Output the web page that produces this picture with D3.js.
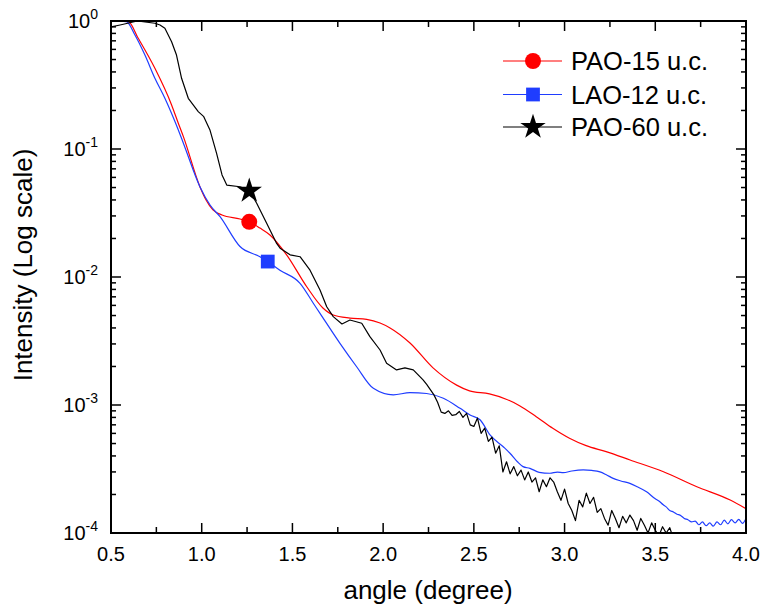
<!DOCTYPE html>
<html><head><meta charset="utf-8">
<script src="https://cdn.jsdelivr.net/npm/d3@7"></script>
<style>body{margin:0;background:#fff}svg{display:block}text{font-family:Arial,"Liberation Sans",sans-serif;fill:#000}</style>
</head><body><svg id="c" width="764" height="611"></svg>
<script>
// ---- data ----
const seriesNames = ["PAO-15 u.c.", "LAO-12 u.c.", "PAO-60 u.c."];
const seriesColors = ["#ff0000", "#1f3dff", "#000000"];
const redAngle = [0.5,0.595,0.65,0.742,0.834,0.871,0.899,0.99,1.024,1.062,1.112,1.211,1.262,1.321,1.376,1.468,1.579,1.668,1.725,1.817,1.909,1.983,2.038,2.148,2.275,2.405,2.476,2.586,2.678,2.752,2.844,2.935,3.027,3.119,3.229,3.361,3.545,3.729,3.913,4.0];
const redInt = [1.0,0.99,0.733,0.427,0.221,0.159,0.125,0.0508,0.040,0.0334,0.0305,0.0284,0.027,0.0241,0.0213,0.0149,0.00839,0.00573,0.00505,0.00478,0.00467,0.00437,0.004,0.00305,0.00195,0.00143,0.00129,0.00122,0.00111,0.000988,0.000811,0.000658,0.00055,0.000481,0.000432,0.000372,0.000301,0.00023,0.000181,0.000155];
const blueAngle = [0.5,0.585,0.632,0.687,0.742,0.797,0.853,0.899,0.99,1.046,1.101,1.211,1.321,1.364,1.431,1.542,1.615,1.652,1.762,1.854,1.946,2.056,2.148,2.24,2.332,2.424,2.479,2.534,2.589,2.662,2.699,2.74,2.771,2.809,2.86,2.919,2.96,2.993,3.04,3.103,3.15,3.195,3.23,3.268,3.31,3.36,3.4,3.452,3.5,3.52,3.544,3.56,3.58,3.6,3.62,3.636,3.66,3.68,3.7,3.72,3.74,3.76,3.78,3.8,3.82,3.84,3.86,3.88,3.9,3.92,3.94,3.96,3.98,4.0];
const blueInt = [1.0,0.99,0.777,0.542,0.357,0.249,0.163,0.111,0.0508,0.0365,0.0296,0.0173,0.0144,0.0132,0.0113,0.00893,0.00624,0.0052,0.00303,0.00199,0.00135,0.0012,0.00125,0.00123,0.00113,0.000942,0.000835,0.000767,0.000583,0.000472,0.00042,0.00036,0.00033,0.00032,0.000298,0.000293,0.000299,0.000296,0.000305,0.000311,0.000308,0.0003,0.000285,0.000267,0.000255,0.000244,0.00023,0.00021,0.000185,0.000178,0.000166,0.00016,0.00015,0.000146,0.00014,0.000138,0.00013,0.000127,0.000122,0.000124,0.000116,0.000122,0.000114,0.00012,0.000113,0.000122,0.000116,0.000126,0.000118,0.000127,0.00012,0.000128,0.000119,0.00013];
const blackAngle = [0.5,0.55,0.592,0.645,0.742,0.77,0.797,0.834,0.861,0.889,0.926,0.981,1.01,1.046,1.082,1.112,1.138,1.211,1.261,1.303,1.358,1.413,1.432,1.487,1.542,1.597,1.652,1.689,1.725,1.773,1.817,1.882,1.927,1.983,2.019,2.074,2.12,2.166,2.22,2.24,2.26,2.28,2.3,2.32,2.34,2.36,2.38,2.4,2.42,2.44,2.46,2.48,2.5,2.52,2.54,2.56,2.58,2.6,2.62,2.64,2.66,2.68,2.7,2.72,2.74,2.76,2.78,2.8,2.82,2.84,2.86,2.88,2.9,2.92,2.94,2.96,2.98,3.0,3.02,3.04,3.06,3.08,3.1,3.12,3.14,3.16,3.18,3.2,3.22,3.24,3.26,3.28,3.3,3.32,3.34,3.36,3.38,3.4,3.42,3.44,3.46,3.48,3.5,3.52,3.54,3.56,3.58,3.6,3.62];
const blackInt = [0.898,0.93,0.96,1.0,0.96,0.93,0.877,0.689,0.542,0.357,0.249,0.196,0.18,0.14,0.0925,0.0627,0.0523,0.0507,0.0478,0.0377,0.0263,0.0183,0.0168,0.0149,0.0144,0.0113,0.00791,0.00586,0.0049,0.0043,0.00461,0.00435,0.00342,0.00269,0.00212,0.00188,0.00195,0.00188,0.00157,0.00145,0.00132,0.0012,0.00105,0.00088,0.00086,0.0009,0.00083,0.00084,0.00089,0.0008,0.00086,0.0007,0.00068,0.00079,0.0006,0.00066,0.00052,0.00056,0.00042,0.00048,0.0003,0.00036,0.00029,0.00033,0.00028,0.00031,0.00026,0.0003,0.00025,0.00027,0.00021,0.00026,0.00023,0.00027,0.00025,0.00021,0.00018,0.00022,0.00017,0.00015,0.000125,0.00018,0.00016,0.000205,0.00017,0.00019,0.000145,0.000155,0.00013,0.000115,0.00015,0.00013,0.00011,0.000135,0.00012,0.000138,0.000125,0.000105,0.00013,0.000115,0.0001,0.00012,0.000105,0.000095,0.000112,0.0001,0.00011,0.00009,0.00008];
const markerAngle = [1.262, 1.364, 1.262];
const markerInt = [0.027, 0.0132, 0.047];
const xTicks = [0.5,1.0,1.5,2.0,2.5,3.0,3.5,4.0];
const yDecades = [0,-1,-2,-3,-4];
const xTitle = "angle (degree)";
const yTitle = "Intensity (Log scale)";

// ---- chart ----
const L=111,R=746,T=21,B=533;
const svg=d3.select("#c");
const x=d3.scaleLinear().domain([0.5,4]).range([L,R]);
const y=d3.scaleLog().domain([1e-4,1]).range([B,T]);

svg.append("clipPath").attr("id","clip").append("rect").attr("x",L).attr("y",T).attr("width",R-L).attr("height",B-T);

const line=d3.line().x(d=>x(d[0])).y(d=>y(d[1]));
const series=[
  {a:redAngle,v:redInt,curve:d3.curveMonotoneX},
  {a:blueAngle,v:blueInt,curve:d3.curveMonotoneX},
  {a:blackAngle,v:blackInt,curve:d3.curveLinear}
];
const gLines=svg.append("g").attr("clip-path","url(#clip)");
series.forEach((s,i)=>{
  const pts=s.a.map((a,j)=>[a,s.v[j]]);
  gLines.append("path").attr("d",line.curve(s.curve)(pts)).attr("fill","none")
    .attr("stroke",seriesColors[i]).attr("stroke-width",1.2).attr("stroke-linejoin","round");
});

const symbols=[d3.symbolCircle,d3.symbolSquare,d3.symbolStar];
const symSizes=[200,190,200];
series.forEach((s,i)=>{
  svg.append("path").attr("d",d3.symbol().type(symbols[i]).size(symSizes[i])())
    .attr("transform",`translate(${x(markerAngle[i])},${y(markerInt[i])})`).attr("fill",seriesColors[i]);
});

// axes ticks
const minorX=d3.range(0.5,4.001,0.25);
const gt=svg.append("g").attr("stroke","#000").attr("stroke-width",1.5);
minorX.forEach(v=>{
  const major=Math.abs(v*2-Math.round(v*2))<1e-6;
  const len=major?10:6;
  gt.append("line").attr("x1",x(v)).attr("x2",x(v)).attr("y1",B).attr("y2",B-len);
  gt.append("line").attr("x1",x(v)).attr("x2",x(v)).attr("y1",T).attr("y2",T+len);
});
y.ticks().forEach(v=>{
  const lg=Math.log10(v);
  const major=Math.abs(lg-Math.round(lg))<1e-6;
  const len=major?10:5;
  gt.append("line").attr("x1",L).attr("x2",L+len).attr("y1",y(v)).attr("y2",y(v));
  gt.append("line").attr("x1",R).attr("x2",R-len).attr("y1",y(v)).attr("y2",y(v));
});
svg.append("rect").attr("x",L).attr("y",T).attr("width",R-L).attr("height",B-T)
  .attr("fill","none").attr("stroke","#000").attr("stroke-width",2);

// tick labels
xTicks.forEach(v=>{
  svg.append("text").attr("x",x(v)).attr("y",561).attr("text-anchor","middle")
    .attr("font-size",20).text(v.toFixed(1));
});
yDecades.forEach(p=>{
  const t=svg.append("text").attr("x",98).attr("y",y(Math.pow(10,p))+7).attr("text-anchor","end").attr("font-size",20);
  t.append("tspan").text("10");
  t.append("tspan").attr("dy",-9).attr("font-size",14).text(String(p));
});

svg.append("text").attr("x",428).attr("y",599).attr("text-anchor","middle").attr("font-size",26).text(xTitle);
svg.append("text").attr("transform","translate(32,265) rotate(-90)").attr("text-anchor","middle").attr("font-size",26).text(yTitle);

// legend
const legY=[61,94.5,127];
seriesNames.forEach((n,i)=>{
  svg.append("line").attr("x1",503).attr("x2",562).attr("y1",legY[i]).attr("y2",legY[i])
    .attr("stroke",seriesColors[i]).attr("stroke-width",1.2);
  svg.append("path").attr("d",d3.symbol().type(symbols[i]).size(symSizes[i])())
    .attr("transform",`translate(533,${legY[i]})`).attr("fill",seriesColors[i]);
  svg.append("text").attr("x",571).attr("y",legY[i]+9).attr("font-size",25.5).text(n);
});
</script></body></html>
